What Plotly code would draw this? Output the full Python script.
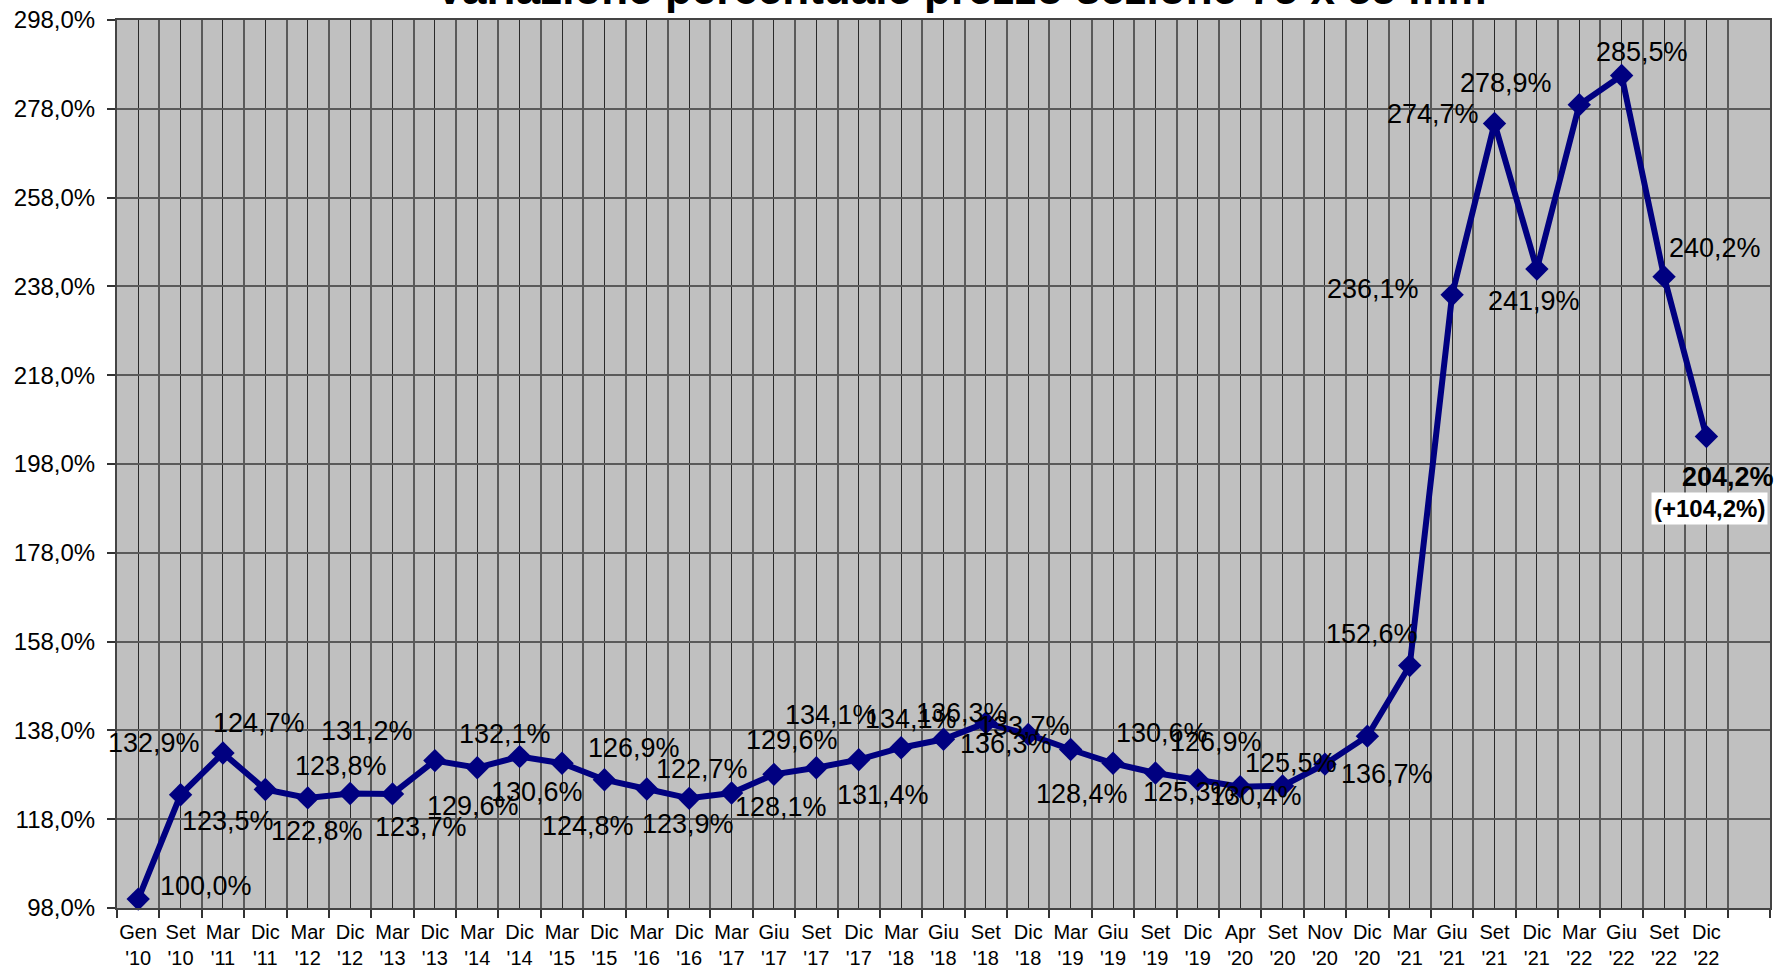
import plotly.graph_objects as go

# ---------------- data ----------------
categories = ["Gen '10", "Set '10", "Mar '11", "Dic '11", "Mar '12", "Dic '12", "Mar '13",
              "Dic '13", "Mar '14", "Dic '14", "Mar '15", "Dic '15", "Mar '16", "Dic '16",
              "Mar '17", "Giu '17", "Set '17", "Dic '17", "Mar '18", "Giu '18", "Set '18",
              "Dic '18", "Mar '19", "Giu '19", "Set '19", "Dic '19", "Apr '20", "Set '20",
              "Nov '20", "Dic '20", "Mar '21", "Giu '21", "Set '21", "Dic '21", "Mar '22",
              "Giu '22", "Set '22", "Dic '22"]

# plotted values (marker positions, %)
values = [100.0, 123.5, 132.9, 124.7, 122.8, 123.8, 123.7, 131.2, 129.6, 132.1,
          130.6, 126.9, 124.8, 122.7, 123.9, 128.1, 129.6, 131.4, 134.1, 136.0,
          139.7, 137.1, 133.7, 130.6, 128.4, 126.9, 125.3, 125.5, 130.4, 136.7,
          152.6, 236.1, 274.7, 241.9, 278.9, 285.5, 240.2, 204.2]

# values written in the data labels (%)
label_values = [100.0, 123.5, 132.9, 124.7, 122.8, 123.8, 123.7, 131.2, 129.6, 132.1,
                130.6, 126.9, 124.8, 122.7, 123.9, 128.1, 129.6, 131.4, 134.1, 134.1,
                136.3, 136.3, 133.7, 130.6, 128.4, 126.9, 125.3, 125.5, 130.4, 136.7,
                152.6, 236.1, 274.7, 241.9, 278.9, 285.5, 240.2, 204.2]

base_value = 100.0
y_tick_values = [98, 118, 138, 158, 178, 198, 218, 238, 258, 278, 298]

title_text = "Variazione percentuale prezzo sezione 75 x 55 mm"

# ---------------- layout helpers (pixel offsets of the labels) ----------------
label_offsets = [(68, 13), (47, -26), (-69, 10), (-6, 66), (9, -33), (-9, 27), (28, -33),
                 (-68, 30), (-4, -38), (-15, 23), (-25, -29), (30, 32), (-59, -37), (13, 29),
                 (-44, -31), (7, -33), (-24, 28), (24, -35), (-70, 33), (-33, 20), (-24, 10),
                 (-22, -10), (-47, 23), (49, 30), (-73, -21), (18, 38), (-51, -5), (8, 23),
                 (-69, -32), (20, -38), (-38, 32), (-79, 6), (-62, 9), (-3, -32), (-73, 22),
                 (20, 24), (51, 29), (22, -41)]


def pct(v):
    return f"{v:.1f}".replace(".", ",") + "%"


FONT = "Liberation Sans, Arial, sans-serif"
NAVY = "#000080"

x_idx = list(range(len(categories)))
tick_text = [c.replace(" ", "<br>") for c in categories]

fig = go.Figure()
fig.add_trace(go.Scatter(
    x=x_idx, y=values, mode="lines+markers",
    line=dict(color=NAVY, width=6),
    marker=dict(symbol="diamond", size=18, color=NAVY),
    cliponaxis=False, showlegend=False, hoverinfo="skip",
))

annotations = []
last = len(values) - 1
for i, (v, lv) in enumerate(zip(values, label_values)):
    dx, dy = label_offsets[i]
    annotations.append(dict(
        x=x_idx[i], y=v, xref="x", yref="y",
        text=("<b>%s</b>" % pct(lv)) if i == last else pct(lv),
        showarrow=False, xanchor="center", yanchor="middle", xshift=dx, yshift=dy,
        font=dict(family=FONT, size=27, color="black"),
    ))

# total change box for the last point
annotations.append(dict(
    x=x_idx[last], y=values[last], xref="x", yref="y",
    text="<b>(+%s)</b>" % pct(values[last] - base_value),
    showarrow=False, xanchor="center", yanchor="middle", xshift=3, yshift=-72,
    font=dict(family=FONT, size=24, color="black"), bgcolor="white", borderpad=2,
))

# title (partly cut off at the top of the page)
annotations.append(dict(
    x=0.5104, y=1.035, xref="paper", yref="paper", text="<b>%s</b>" % title_text,
    showarrow=False, xanchor="center", yanchor="middle",
    font=dict(family=FONT, size=44, color="black"),
))

fig.update_layout(
    width=1774, height=969,
    margin=dict(l=117, r=4, t=20, b=61, autoexpand=False),
    paper_bgcolor="white", plot_bgcolor="#C0C0C0",
    font=dict(family=FONT, color="black"),
    annotations=annotations,
    showlegend=False,
)

fig.update_xaxes(
    range=[-0.5, len(categories) + 0.5],
    tickmode="array", tickvals=x_idx, ticktext=tick_text,
    ticks="", tickfont=dict(family=FONT, size=20, color="black"),
    ticklabelstandoff=5, automargin=False,
    showgrid=True, gridcolor="#2a2a2a", gridwidth=1,
    minor=dict(tickmode="linear", tick0=-0.5, dtick=1, ticks="outside", ticklen=8,
               tickcolor="#333333", tickwidth=1.5,
               showgrid=True, gridcolor="#5a5a5a", gridwidth=1.5),
    showline=True, linecolor="#444444", linewidth=2, mirror=True,
    zeroline=False,
)

fig.update_yaxes(
    range=[98, 298],
    tickmode="array", tickvals=y_tick_values, ticktext=[pct(v) for v in y_tick_values],
    ticks="outside", ticklen=8, tickcolor="#333333", tickwidth=1.5,
    tickfont=dict(family=FONT, size=24, color="black"),
    ticklabelstandoff=7, automargin=False,
    showgrid=True, gridcolor="#5a5a5a", gridwidth=2,
    showline=True, linecolor="#444444", linewidth=2, mirror=True,
    zeroline=False,
)

fig.write_html("out.html", config={"displayModeBar": False},
               post_script="document.body.style.margin='0px';")
